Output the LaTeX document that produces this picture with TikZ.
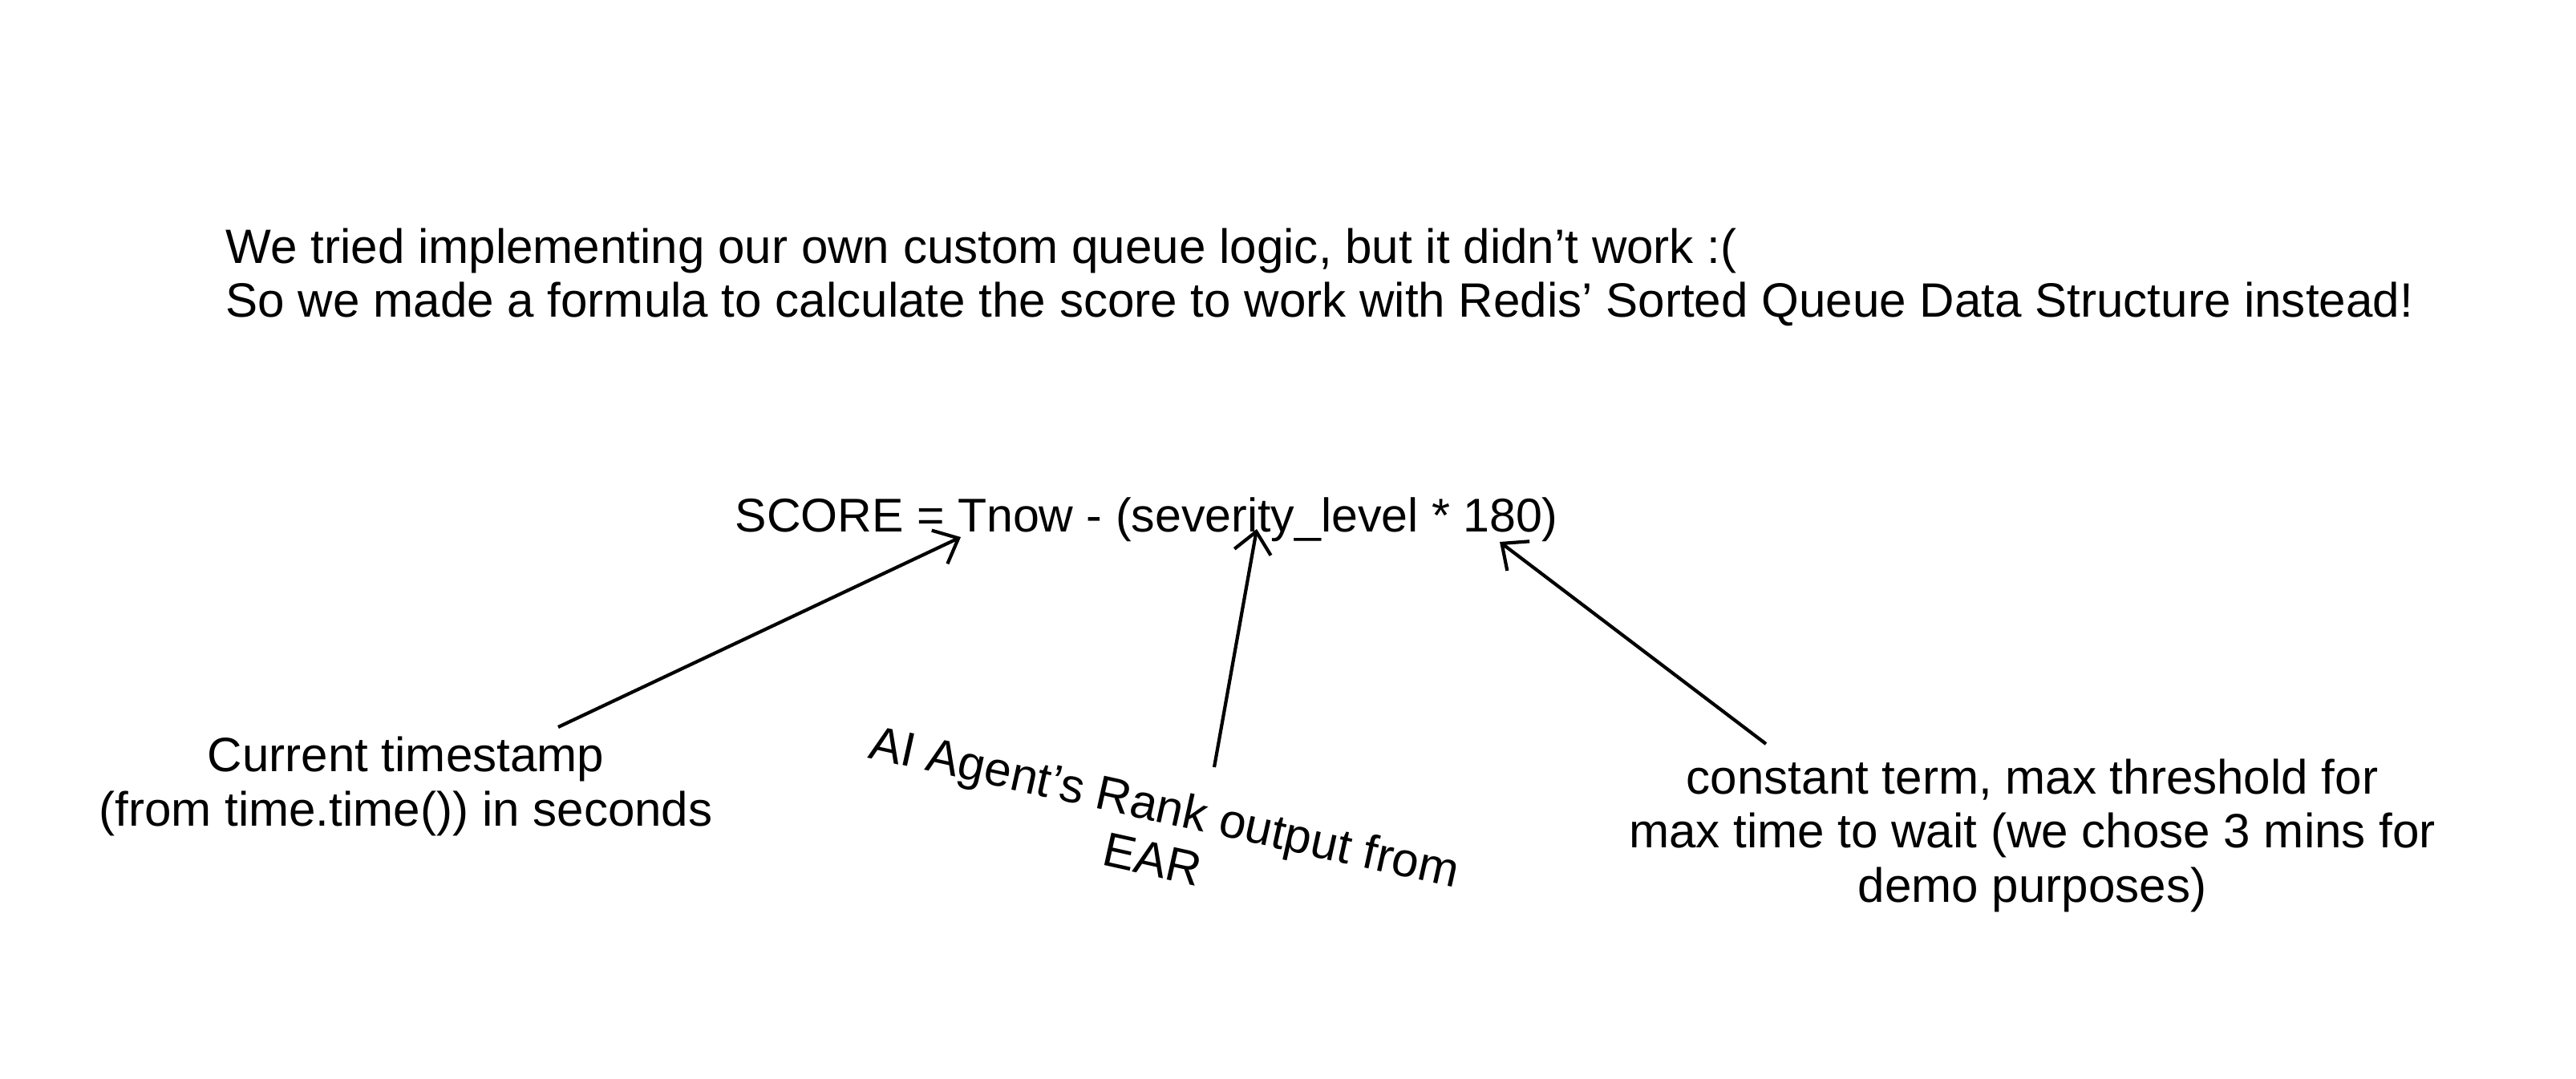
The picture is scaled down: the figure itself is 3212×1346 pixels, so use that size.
\documentclass[tikz,border=0pt]{standalone}
\usepackage{fontspec}
\setmainfont{Liberation Sans}
\usetikzlibrary{calc, arrows.meta}

\begin{document}
\begin{tikzpicture}[x=0.01cm, y=-0.01cm, font=\fontsize{17.1}{19.2}\selectfont,
  note/.style={align=center, inner sep=0pt},
  pointer/.style={line width=1.2pt, -{Straight Barb[length=2.6mm, width=4.6mm]}}]
  \useasboundingbox (0,0) rectangle (3212,1346);
  % Intro text
  \node[anchor=west, align=left, inner sep=0pt] (intro) at (281,346)
    {We tried implementing our own custom queue logic, but it didn't work :(\\
     So we made a formula to calculate the score to work with Redis' Sorted Queue Data Structure instead!};
  % Formula
  \node[anchor=west, inner sep=0pt, font=\fontsize{16.8}{19.2}\selectfont] (score) at (916,648)
    {SCORE = Tnow - (severity\_level * 180)};
  % Labels
  \node[note] (stamp) at (506,981) {Current timestamp\\(from time.time()) in seconds};
  \node[note, rotate=-12.5] (rank) at (1445,1038) {AI Agent's Rank output from\\EAR};
  \node[note] (wait) at (2534,1042) {constant term, max threshold for\\max time to wait (we chose 3 mins for\\demo purposes)};
  % Arrow ends
  \coordinate (stamp tail) at (696,907);
  \coordinate (tnow tip) at (1198,670);
  \coordinate (rank tail) at (1514,957);
  \coordinate (level tip) at (1567,660);
  \coordinate (wait tail) at (2202,928);
  \coordinate (const tip) at (1870,676);
  % Pointers
  \draw[pointer] (stamp tail) -- (tnow tip);
  \draw[pointer] (rank tail) -- (level tip);
  \draw[pointer] (wait tail) -- (const tip);
\end{tikzpicture}
\end{document}
